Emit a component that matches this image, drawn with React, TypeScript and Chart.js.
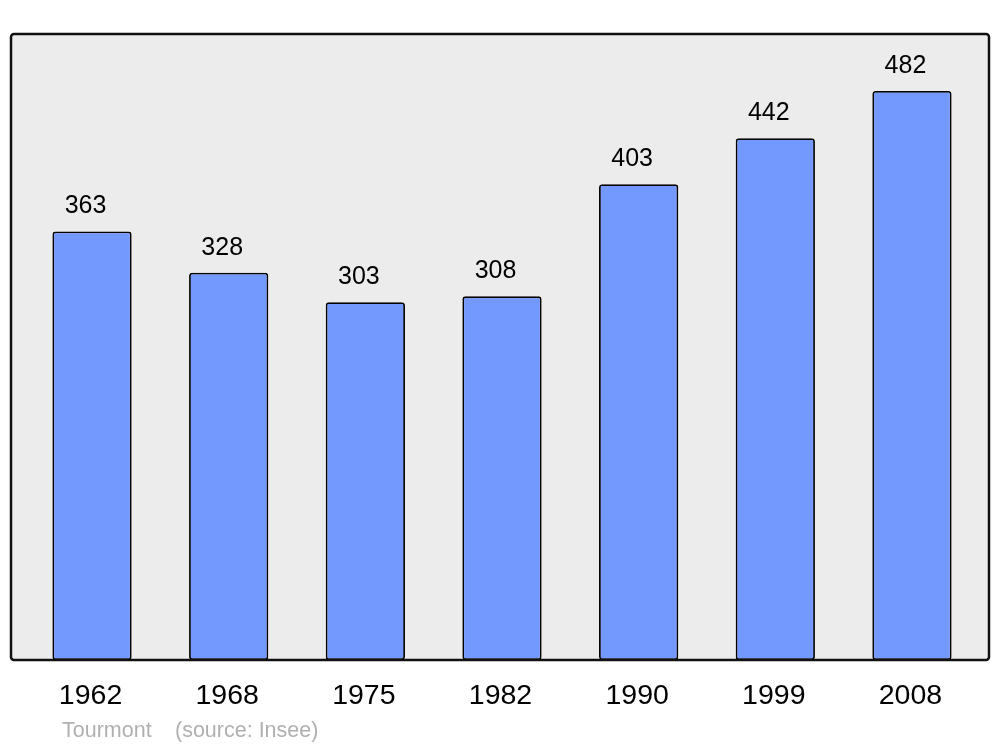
import React, { useEffect, useRef } from "react";
import { Chart, registerables } from "chart.js";

Chart.register(...registerables);

const years = ["1962", "1968", "1975", "1982", "1990", "1999", "2008"];
const population = [363, 328, 303, 308, 403, 442, 482];
const footerPlace = "Tourmont";
const footerSource = "(source: Insee)";

const FONT = "'Liberation Sans', Arial, sans-serif";

const framePlugin = {
  id: "frame",
  beforeDatasetsDraw(chart: any) {
    const { ctx, chartArea } = chart;
    const left = chartArea.left - 12.7;
    const right = chartArea.right + 8.7;
    const top = chartArea.top;
    const bottom = chartArea.bottom;
    ctx.save();
    ctx.beginPath();
    (ctx as any).roundRect(left, top, right - left, bottom - top, 3);
    ctx.fillStyle = "#ececec";
    ctx.fill();
    ctx.restore();
  },
  afterDatasetsDraw(chart: any) {
    const { ctx, chartArea } = chart;
    const left = chartArea.left - 12.7;
    const right = chartArea.right + 8.7;
    const top = chartArea.top;
    const bottom = chartArea.bottom;
    ctx.save();
    ctx.beginPath();
    (ctx as any).roundRect(left, top, right - left, bottom - top, 3);
    ctx.lineWidth = 2.5;
    ctx.strokeStyle = "#111";
    ctx.stroke();

    const meta = chart.getDatasetMeta(0);
    ctx.fillStyle = "#000";
    ctx.font = `25px ${FONT}`;
    ctx.textAlign = "center";
    ctx.textBaseline = "middle";
    meta.data.forEach((bar: any, i: number) => {
      ctx.fillText(String(population[i]), bar.x - 6.5, bar.y - 25);
    });

    ctx.fillStyle = "#b0b0b0";
    ctx.font = `21.5px ${FONT}`;
    ctx.textAlign = "left";
    ctx.fillText(footerPlace, 62, 731.5);
    ctx.fillText(footerSource, 175, 731.5);
    ctx.restore();
  },
};

export default function App() {
  const ref = useRef<HTMLCanvasElement | null>(null);
  useEffect(() => {
    if (!ref.current) return;
    const chart = new Chart(ref.current, {
      type: "bar",
      data: {
        labels: years,
        datasets: [
          {
            data: population,
            backgroundColor: "#7399ff",
            borderColor: "#000",
            borderWidth: 1.8,
            borderRadius: 3,
            borderSkipped: false,
            barPercentage: 0.58,
            categoryPercentage: 1,
          },
        ],
      },
      options: {
        animation: false,
        responsive: false,
        devicePixelRatio: 1,
        layout: { padding: { left: 23.7, right: 19.7, top: 34, bottom: 0 } },
        plugins: { legend: { display: false }, tooltip: { enabled: false } },
        scales: {
          x: {
            grid: { display: false, drawTicks: false },
            border: { display: false },
            ticks: {
              color: "#000",
              font: { family: FONT, size: 28.5 },
              padding: 19,
              labelOffset: -1.5,
            },
            afterFit(scale: any) {
              scale.height = 87;
            },
          },
          y: {
            display: false,
            min: 0,
            max: 530.2,
          },
        },
      },
      plugins: [framePlugin],
    });
    return () => chart.destroy();
  }, []);
  return (
    <div style={{ position: "absolute", left: 0, top: 0, width: 1000, height: 747, background: "#fff" }}>
      <canvas ref={ref} width={1000} height={747} />
    </div>
  );
}
